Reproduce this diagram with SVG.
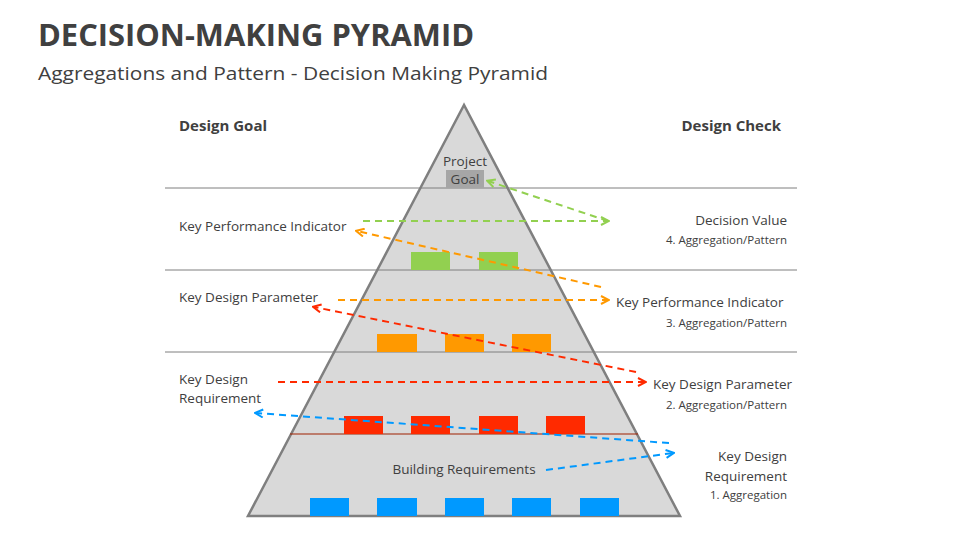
<svg xmlns="http://www.w3.org/2000/svg" width="960" height="540" viewBox="0 0 960 540">
<style>
text{font-family:"Open Sans","Liberation Sans",sans-serif;fill:#404040}
.t{font-size:13.5px}.s{font-size:11.5px}.b{font-weight:bold;font-size:15px}
.d{fill:none;stroke-width:2;stroke-dasharray:7,5}
.g{stroke:#92d050}.o{stroke:#ff9900}.r{stroke:#ff2a00}.bl{stroke:#0099ff}
.h{stroke:#7f7f7f;stroke-width:1}
</style>
<defs>
<marker id="mg" viewBox="0 0 10 10" refX="8" refY="5" markerWidth="5" markerHeight="5" orient="auto-start-reverse"><path d="M1 1L9 5L1 9" fill="none" stroke="#92d050" stroke-width="2"/></marker>
<marker id="mo" viewBox="0 0 10 10" refX="8" refY="5" markerWidth="5" markerHeight="5" orient="auto-start-reverse"><path d="M1 1L9 5L1 9" fill="none" stroke="#ff9900" stroke-width="2"/></marker>
<marker id="mr" viewBox="0 0 10 10" refX="8" refY="5" markerWidth="5" markerHeight="5" orient="auto-start-reverse"><path d="M1 1L9 5L1 9" fill="none" stroke="#ff2a00" stroke-width="2"/></marker>
<marker id="mb" viewBox="0 0 10 10" refX="8" refY="5" markerWidth="5" markerHeight="5" orient="auto-start-reverse"><path d="M1 1L9 5L1 9" fill="none" stroke="#0099ff" stroke-width="2"/></marker>
</defs>
<rect width="960" height="540" fill="#fff"/>
<text x="38" y="46" style="font-size:30px;font-weight:bold;font-family:'Open Sans','Liberation Sans',sans-serif" textLength="436" lengthAdjust="spacingAndGlyphs">DECISION-MAKING PYRAMID</text>
<text x="38" y="80" style="font-size:19px" textLength="510" lengthAdjust="spacingAndGlyphs">Aggregations and Pattern - Decision Making Pyramid</text>
<g id="pyramid">
<polygon points="464,105 248,516 680,516" fill="#d9d9d9" stroke="#7f7f7f" stroke-width="2.5"/>
<line x1="165" y1="188" x2="797" y2="188" class="h"/>
<line x1="165" y1="270" x2="797" y2="270" class="h"/>
<line x1="165" y1="352" x2="797" y2="352" class="h"/>
<line x1="290" y1="434" x2="638" y2="434" stroke="#a02000" stroke-width="1.2"/>
<rect x="446" y="170" width="38" height="18" fill="#a6a6a6"/>
<text x="465" y="166" class="t" text-anchor="middle">Project</text>
<text x="465" y="184" class="t" text-anchor="middle">Goal</text>
<text x="464" y="474" class="t" text-anchor="middle">Building Requirements</text>
</g>
<g id="boxes">
<g fill="#92d050"><rect x="411" y="252" width="39" height="18"/><rect x="479" y="252" width="39" height="18"/></g>
<g fill="#ff9900"><rect x="377" y="334" width="40" height="18"/><rect x="445" y="334" width="39" height="18"/><rect x="512" y="334" width="39" height="18"/></g>
<g fill="#ff2a00"><rect x="344" y="416" width="39" height="18"/><rect x="411" y="416" width="39" height="18"/><rect x="479" y="416" width="39" height="18"/><rect x="546" y="416" width="39" height="18"/></g>
<g fill="#0099ff"><rect x="310" y="498" width="39" height="18"/><rect x="377" y="498" width="40" height="18"/><rect x="445" y="498" width="39" height="18"/><rect x="512" y="498" width="39" height="18"/><rect x="580" y="498" width="39" height="18"/></g>
</g>
<g id="labels-left">
<text x="179" y="131" class="b">Design Goal</text>
<text x="179" y="231" class="t">Key Performance Indicator</text>
<text x="179" y="302" class="t">Key Design Parameter</text>
<text x="179" y="384" class="t">Key Design</text>
<text x="179" y="403" class="t">Requirement</text>
</g>
<g id="labels-right">
<text x="781" y="131" class="b" text-anchor="end">Design Check</text>
<text x="787" y="225" class="t" text-anchor="end">Decision Value</text>
<text x="787" y="244" class="s" text-anchor="end">4. Aggregation/Pattern</text>
<text x="616" y="307" class="t">Key Performance Indicator</text>
<text x="787" y="327" class="s" text-anchor="end">3. Aggregation/Pattern</text>
<text x="653" y="389" class="t">Key Design Parameter</text>
<text x="787" y="409" class="s" text-anchor="end">2. Aggregation/Pattern</text>
<text x="787" y="461" class="t" text-anchor="end">Key Design</text>
<text x="787" y="481" class="t" text-anchor="end">Requirement</text>
<text x="787" y="499" class="s" text-anchor="end">1. Aggregation</text>
</g>
<g id="connectors">
<line x1="608" y1="221" x2="488" y2="181" class="d g" marker-end="url(#mg)"/>
<line x1="363" y1="221" x2="608" y2="221" class="d g" marker-end="url(#mg)"/>
<line x1="601" y1="287" x2="357" y2="231" class="d o" marker-end="url(#mo)"/>
<line x1="338" y1="300" x2="608" y2="300" class="d o" marker-end="url(#mo)"/>
<line x1="636" y1="372" x2="314" y2="307" class="d r" marker-end="url(#mr)"/>
<line x1="278" y1="382" x2="645" y2="382" class="d r" marker-end="url(#mr)"/>
<line x1="669" y1="443" x2="256" y2="413" class="d bl" marker-end="url(#mb)"/>
<line x1="546" y1="470" x2="673" y2="453" class="d bl" marker-end="url(#mb)"/>
</g>
</svg>
